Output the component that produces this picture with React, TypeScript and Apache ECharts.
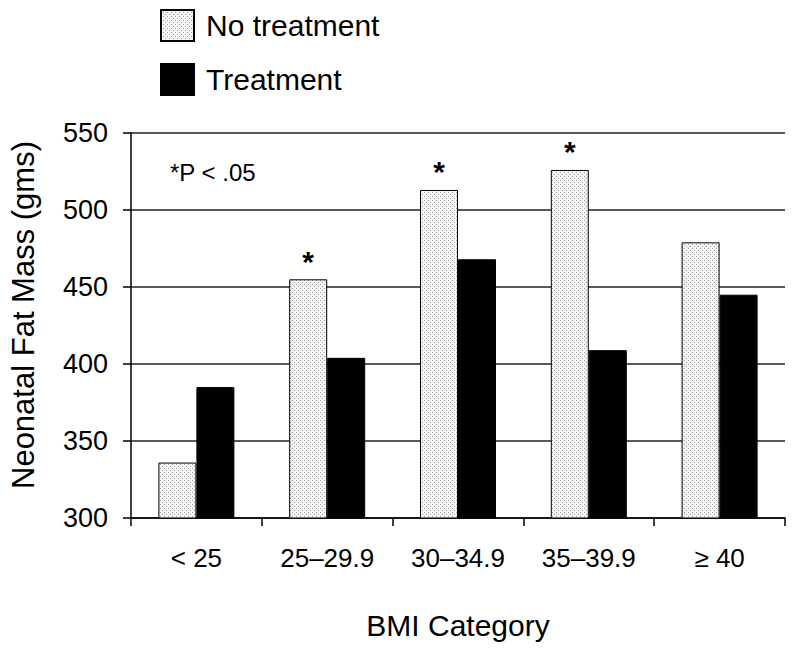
import React, { useEffect, useRef } from "react";
import * as echarts from "echarts";

const categories = ["< 25", "25–29.9", "30–34.9", "35–39.9", "≥ 40"];
const noTreatment = [336, 455, 513, 526, 479];
const treatment = [385, 404, 468, 409, 445];
const significant = [false, true, true, true, false];
const yTicks = { min: 300, max: 550, interval: 50 };

const FONT = "Arial, 'Liberation Sans', Helvetica, sans-serif";

function makeStipple(): HTMLCanvasElement {
  const c = document.createElement("canvas");
  c.width = 4;
  c.height = 4;
  const ctx = c.getContext("2d")!;
  ctx.fillStyle = "#f3f3f3";
  ctx.fillRect(0, 0, 4, 4);
  ctx.fillStyle = "#a4a4a4";
  ctx.fillRect(0, 0, 1, 1);
  ctx.fillRect(2, 2, 1, 1);
  return c;
}

export default function App() {
  const ref = useRef<HTMLDivElement>(null);
  useEffect(() => {
    if (!ref.current) return;
    const chart = echarts.init(ref.current, undefined, { renderer: "svg" });
    const stipple = { image: makeStipple(), repeat: "repeat" } as any;
    chart.setOption({
      animation: false,
      backgroundColor: "#ffffff",
      textStyle: { fontFamily: FONT, color: "#000" },
      grid: { left: 131, right: 15, top: 133, bottom: 131, containLabel: false },
      legend: {
        orient: "vertical",
        left: 155,
        top: 4,
        itemWidth: 33,
        itemHeight: 31,
        itemGap: 21,
        icon: "rect",
        textStyle: { fontSize: 30, color: "#000", fontFamily: FONT, padding: [0, 0, 0, 7] },
        data: ["No treatment", "Treatment"],
      },
      xAxis: {
        type: "category",
        data: categories,
        boundaryGap: true,
        axisLine: { lineStyle: { color: "#000", width: 1.5 } },
        axisTick: { show: true, length: 8, interval: 0, lineStyle: { color: "#000", width: 1.5 } },
        axisLabel: { fontSize: 26, color: "#000", margin: 27, fontFamily: FONT, interval: 0 },
      },
      yAxis: {
        type: "value",
        min: yTicks.min,
        max: yTicks.max,
        interval: yTicks.interval,
        axisLine: { show: true, lineStyle: { color: "#000", width: 1.5 } },
        axisTick: { show: true, length: 8, lineStyle: { color: "#000", width: 1.5 } },
        axisLabel: { fontSize: 27, color: "#000", margin: 23, fontFamily: FONT },
        splitLine: { show: true, lineStyle: { color: "#222", width: 1.5 } },
      },
      graphic: [
        {
          type: "text",
          x: 23,
          y: 315,
          rotation: Math.PI / 2,
          style: {
            text: "Neonatal Fat Mass (gms)",
            font: `31px ${FONT}`,
            fill: "#000",
            align: "center",
            verticalAlign: "middle",
          },
        },
        {
          type: "text",
          x: 458,
          y: 625,
          style: {
            text: "BMI Category",
            font: `30px ${FONT}`,
            fill: "#000",
            align: "center",
            verticalAlign: "middle",
          },
        },
        {
          type: "text",
          x: 170,
          y: 172,
          style: {
            text: "*P < .05",
            font: `24px ${FONT}`,
            fill: "#000",
            align: "left",
            verticalAlign: "middle",
          },
        },
      ],
      series: [
        {
          name: "No treatment",
          type: "bar",
          data: noTreatment,
          barWidth: 38,
          barGap: "0%",
          itemStyle: { color: stipple, borderColor: "#000", borderWidth: 1 },
          label: {
            show: true,
            position: "top",
            distance: 3,
            fontSize: 30,
            fontWeight: "bold",
            color: "#000",
            fontFamily: FONT,
            formatter: (p: any) => (significant[p.dataIndex] ? "*" : ""),
          },
        },
        {
          name: "Treatment",
          type: "bar",
          data: treatment,
          barWidth: 38,
          barGap: "0%",
          itemStyle: { color: "#000", borderColor: "#000", borderWidth: 1 },
        },
      ],
    });
    return () => chart.dispose();
  }, []);
  return (
    <div
      ref={ref}
      style={{ position: "fixed", left: 0, top: 0, width: 800, height: 649, background: "#fff" }}
    />
  );
}
